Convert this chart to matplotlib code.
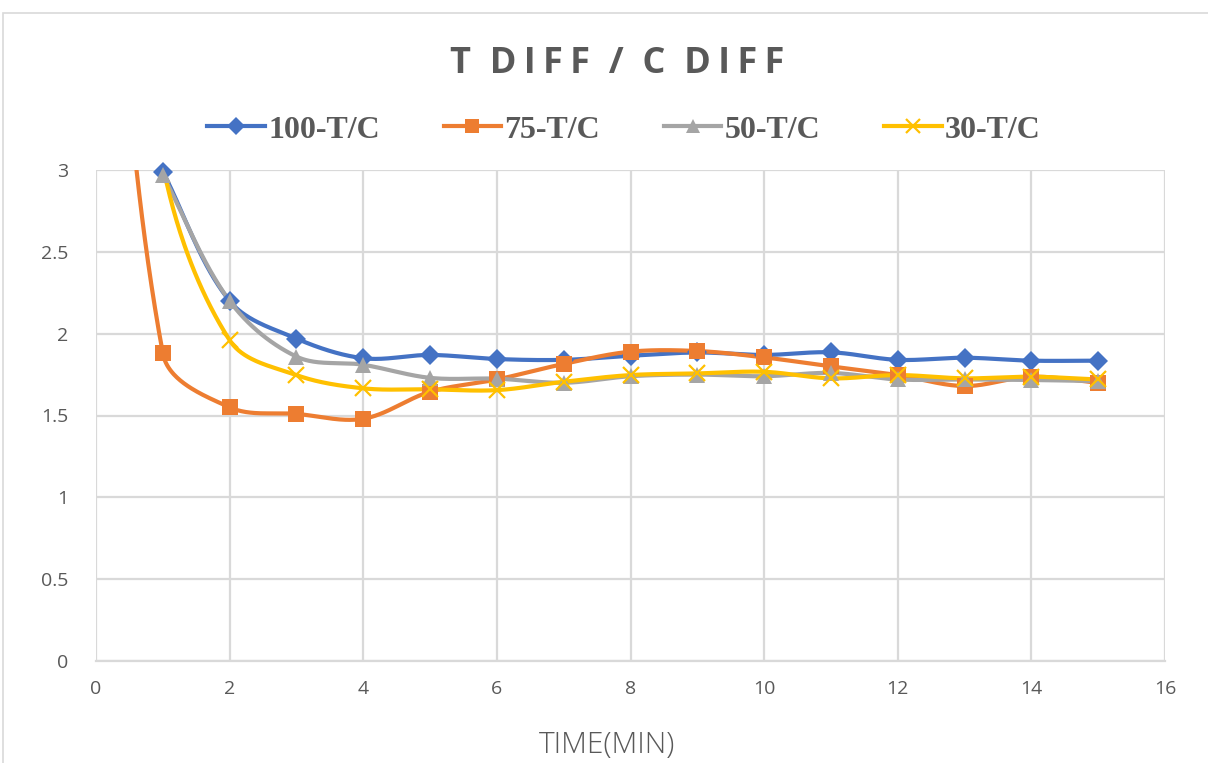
import numpy as np
import matplotlib
matplotlib.use("Agg")
import matplotlib.pyplot as plt
from matplotlib.patches import Rectangle

# ── data ────────────────────────────────────────────────────────────────
time_min = [1, 2, 3, 4, 5, 6, 7, 8, 9, 10, 11, 12, 13, 14, 15]
t100 = [2.99, 2.20, 1.97, 1.85, 1.87, 1.845, 1.84, 1.865, 1.885, 1.87,
        1.886, 1.84, 1.853, 1.835, 1.835]
# 75-T/C and 30-T/C also have a reading at t=0, above the axis limit
time_0 = [0] + time_min
t75 = [6.0, 1.88, 1.55, 1.51, 1.48, 1.645, 1.72, 1.815, 1.89, 1.894, 1.855,
       1.80, 1.747, 1.68, 1.737, 1.70]
t50 = [2.97, 2.20, 1.86, 1.81, 1.73, 1.725, 1.70, 1.74, 1.75, 1.74,
       1.76, 1.72, 1.72, 1.717, 1.71]
t30 = [6.0, 3.03, 1.96, 1.747, 1.666, 1.66, 1.655, 1.706, 1.747, 1.757,
       1.767, 1.727, 1.747, 1.727, 1.737, 1.72]

series = [
    ("100-T/C", time_min, t100, "#4472C4", "D"),
    ("75-T/C", time_0, t75, "#ED7D31", "s"),
    ("50-T/C", time_min, t50, "#A5A5A5", "^"),
    ("30-T/C", time_0, t30, "#FFC000", "x"),
]

# pixels per data unit, used so the smoothing behaves like it does on screen
SX, SY = 66.8, 163.7


def smooth(xs, ys, n=60):
    """Smoothed line: Bezier segments, handle length scaled by segment length."""
    p = np.column_stack([np.asarray(xs, float) * SX, np.asarray(ys, float) * SY])
    m = len(p)
    ext = np.vstack([p[0], p, p[-1]])
    out = []
    t = np.linspace(0, 1, n)[:, None]
    for i in range(m - 1):
        p0, p3 = p[i], p[i + 1]
        seg = np.linalg.norm(p3 - p0)
        d0 = ext[i + 2] - ext[i]
        d1 = ext[i + 3] - ext[i + 1]
        p1 = p0 + d0 / np.linalg.norm(d0) * seg / 3
        p2 = p3 - d1 / np.linalg.norm(d1) * seg / 3
        c = ((1 - t) ** 3 * p0 + 3 * (1 - t) ** 2 * t * p1
             + 3 * (1 - t) * t ** 2 * p2 + t ** 3 * p3)
        out.append(c)
    c = np.vstack(out)
    return c[:, 0] / SX, c[:, 1] / SY


TXT = "#595959"
GRID = "#D9D9D9"

fig = plt.figure(figsize=(12.08, 7.63), dpi=100)
fig.patches.append(Rectangle((3 / 1208, -0.2), 1.2, 1 - 13 / 763 + 0.2,
                             transform=fig.transFigure, fill=False,
                             edgecolor=GRID, linewidth=1.2))

ax = fig.add_axes([96 / 1208, 102 / 763, 1069 / 1208, 491 / 763])

handles = []
for name, xs, ys, col, mk in series:
    sx, sy = smooth(xs, ys)
    ax.plot(sx, sy, color=col, linewidth=3, solid_capstyle="round", zorder=3)
    mew = 0 if mk != "x" else 1.6
    pts = [(x, y) for x, y in zip(xs, ys) if y <= 3.0]
    px, py = zip(*pts)
    ax.plot(px, py, linestyle="none", marker=mk,
            markersize=11 if mk != "D" else 10,
            color=col, markeredgewidth=mew, markeredgecolor=col,
            zorder=4, clip_on=False)
    h, = ax.plot([], [], color=col, linewidth=3, marker=mk,
                 markersize=10 if mk != "D" else 9,
                 markeredgewidth=mew, markeredgecolor=col, label=name)
    handles.append(h)

ax.set_xlim(0, 16)
ax.set_ylim(0, 3)
ax.set_xticks(np.arange(0, 17, 2))
ax.set_yticks(np.arange(0, 3.01, 0.5))
ax.set_yticklabels(["0", "0.5", "1", "1.5", "2", "2.5", "3"])
ax.grid(True, color=GRID, linewidth=1.6, zorder=0)
ax.set_axisbelow(True)
for s in ["top", "right", "left"]:
    ax.spines[s].set_visible(False)
ax.spines["bottom"].set_color(GRID)
ax.spines["bottom"].set_linewidth(1.6)
ax.tick_params(length=0, colors=TXT, labelsize=14)
ax.tick_params(axis="x", pad=14)
ax.tick_params(axis="y", pad=20)
for lbl in ax.get_xticklabels() + ax.get_yticklabels():
    lbl.set_fontfamily("Open Sans")

fig.text(607 / 1208, 1 - 745 / 763, "TIME(MIN)", color=TXT, fontsize=21.5,
         fontfamily="Open Sans", fontweight="light", ha="center",
         va="center")

title = "\u2009".join("T DIFF / C DIFF").replace("\u2009 \u2009", "  ")
fig.text(617 / 1208, 1 - 64 / 763, title, ha="center",
         va="center", fontsize=26, fontweight="bold", color=TXT,
         fontfamily="Open Sans")

leg = fig.legend(handles=handles, loc="center", ncol=4,
                 bbox_to_anchor=(624 / 1208, 1 - 130 / 763), frameon=False,
                 handlelength=1.8, handletextpad=0.1, columnspacing=2.0,
                 prop={"family": "Liberation Serif", "weight": "bold",
                       "size": 23})
for t in leg.get_texts():
    t.set_color(TXT)

fig.savefig("out.png", dpi=100, facecolor="white")
